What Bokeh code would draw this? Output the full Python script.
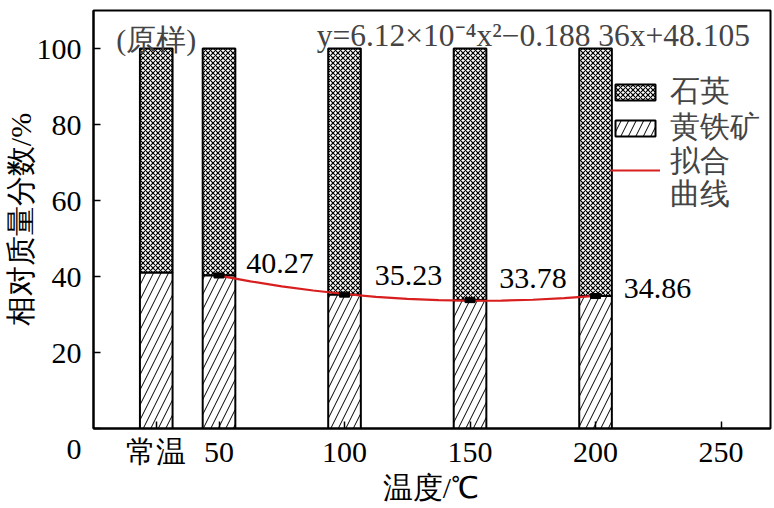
from bokeh.plotting import figure
from bokeh.models import FixedTicker, Label, Legend, LegendItem, Range1d, ColumnDataSource
from bokeh.embed import file_html
from bokeh.resources import INLINE

# ---- data ----
temps = [25, 50, 100, 150, 200]
temp_tick_labels = {25: "常温", 50: "50", 100: "100", 150: "150", 200: "200", 250: "250"}
pyrite = [41.0, 40.27, 35.23, 33.78, 34.86]
total = [100, 100, 100, 100, 100]
point_x = [50, 100, 150, 200]
point_y = [40.27, 35.23, 33.78, 34.86]
point_labels = ["40.27", "35.23", "33.78", "34.86"]
fit_x = [50, 62.5, 75, 87.5, 100, 112.5, 125, 137.5, 150, 162.5, 175, 187.5, 200]
fit_y = [40.22, 38.72, 37.42, 36.31, 35.39, 34.66, 34.12, 33.78, 33.62, 33.66, 33.88, 34.30, 34.91]
y_ticks = [0, 20, 40, 60, 80, 100]
y_tick_labels = {0: "\n0"}
equation = "y=6.12×10⁻⁴x²−0.188 36x+48.105"
legend_labels = ["石英", "黄铁矿", " ", "拟合", "曲线"]

FONT = "Times New Roman"
FS = "30px"

p = figure(frame_width=677, frame_height=418, output_backend="svg", toolbar_location=None,
           x_range=Range1d(0, 269.7), y_range=Range1d(0, 110),
           min_border_left=85, min_border_right=2, min_border_top=10, min_border_bottom=60)
p.xgrid.visible = False
p.ygrid.visible = False
p.outline_line_color = "black"
p.outline_line_width = 2
p.background_fill_color = "white"
p.border_fill_color = "white"

src = ColumnDataSource(dict(x=temps, pyrite=pyrite, total=total))
quartz_r = p.vbar(x="x", width=13, bottom="pyrite", top="total", source=src,
                  fill_color="white", line_color="black", line_width=2,
                  hatch_pattern="diagonal_cross", hatch_scale=5, hatch_color="black",
                  hatch_weight=1.2)
pyrite_r = p.vbar(x="x", width=13, bottom=0, top="pyrite", source=src,
                  fill_color="white", line_color="black", line_width=2,
                  hatch_pattern="right_diagonal_line", hatch_scale=15, hatch_color="black",
                  hatch_weight=1)

line_r = p.line(fit_x, fit_y, line_color="#d81e1e", line_width=2.2)
blank_r = p.line([], [], line_alpha=0)
p.rect(point_x, point_y, width=10, height=5, width_units="screen", height_units="screen",
       fill_color="black", line_color="black")

label_dx = [61, 64, 63, 62]
label_dy = [12, 19, 22, 8]
for xv, yv, t, dx, dy in zip(point_x, point_y, point_labels, label_dx, label_dy):
    p.add_layout(Label(x=xv, y=yv, x_offset=dx, y_offset=dy, text=t, text_font=FONT,
                       text_font_size=FS, text_align="center", text_baseline="middle",
                       text_color="black"))

# axes
p.xaxis.ticker = FixedTicker(ticks=list(temp_tick_labels.keys()))
p.xaxis.major_label_overrides = temp_tick_labels
p.yaxis.ticker = FixedTicker(ticks=y_ticks)
p.yaxis.major_label_overrides = y_tick_labels
for ax in (p.xaxis[0], p.yaxis[0]):
    ax.axis_line_width = 2
    ax.axis_line_color = "black"
    ax.major_tick_in = 7
    ax.major_tick_out = 0
    ax.major_tick_line_width = 1.5
    ax.minor_tick_line_color = None
    ax.major_label_text_font = FONT
    ax.major_label_text_font_size = FS
    ax.major_label_text_color = "black"
    ax.axis_label_text_font = FONT
    ax.axis_label_text_font_size = FS
    ax.axis_label_text_font_style = "normal"
    ax.axis_label_text_color = "black"
p.xaxis.axis_label = "温度/℃"
p.yaxis.axis_label = "相对质量分数/%"
p.xaxis.major_label_standoff = 6
p.xaxis.axis_label_standoff = 0
p.yaxis.major_label_standoff = 12
p.yaxis.axis_label_standoff = -3

p.add_layout(Label(x=25, y=100, y_offset=9, text="(原样)", text_font=FONT,
                   text_font_size=FS, text_align="center", text_baseline="alphabetic"))
p.add_layout(Label(x=261.5, y=100, y_offset=13, text=equation, text_font=FONT,
                   text_font_size="31.5px", text_align="right", text_baseline="alphabetic"))

# legend rows, each placed on its own
legend_renderers = [quartz_r, pyrite_r, line_r, blank_r, blank_r]
legend_rows_y = [316, 280, 248, 246, 213]
for lab, rend, ly in zip(legend_labels, legend_renderers, legend_rows_y):
    lg = Legend(items=[LegendItem(label=lab, renderers=[rend])],
                location=(517, ly), label_text_font=FONT, label_text_font_size=FS,
                glyph_width=50, glyph_height=20, label_standoff=10, padding=0, margin=0,
                spacing=0, border_line_color=None, background_fill_alpha=0)
    p.add_layout(lg)

open("out.html", "w").write(file_html(p, INLINE))
